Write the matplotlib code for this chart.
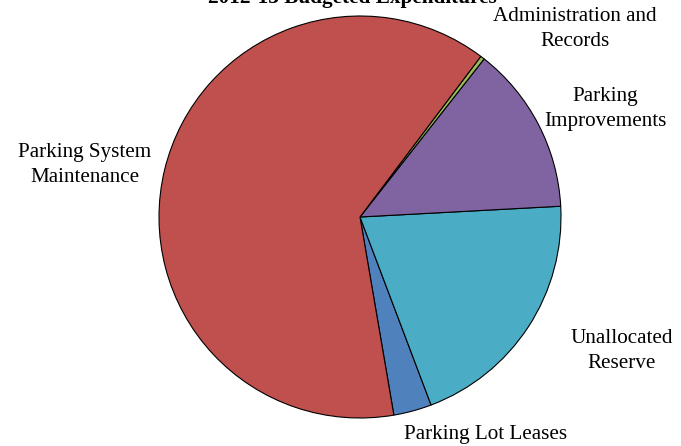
import numpy as np
import matplotlib
matplotlib.use('Agg')
import matplotlib.pyplot as plt

plt.rcParams['font.family'] = ['Liberation Serif', 'DejaVu Serif']

title = '2012-13 Budgeted Expenditures'
categories = ['Parking Lot Leases', 'Unallocated\nReserve', 'Parking\nImprovements',
              'Administration and\nRecords', 'Parking System\nMaintenance']
shares = [3.06, 20.1, 13.55, 0.33, 62.96]
colors = ['#4F81BD', '#4BACC6', '#8064A2', '#9BBB59', '#C0504D']
# label spots in pie-radius units
label_xy = [(0.627, -1.08), (1.303, -0.667), (1.219, 0.537), (1.07, 0.935), (-1.368, 0.259)]

fig = plt.figure(figsize=(6.81, 4.46), dpi=100)
ax = fig.add_axes([0, 0, 1, 1])
ax.pie(shares, colors=colors, startangle=-80.3, counterclock=True, radius=1,
       wedgeprops=dict(edgecolor='black', linewidth=0.8))
for name, (x, y) in zip(categories, label_xy):
    ax.text(x, y, name, ha='center', va='center', fontsize=15.2, linespacing=1.38)

r = 201.0
ax.set_xlim(-360 / r, (681 - 360) / r)
ax.set_ylim(-(446 - 217) / r, 217 / r)
ax.set_aspect('equal')
ax.axis('off')

fig.text(352 / 681, 1 - 3 / 446, title, ha='center', va='baseline',
         fontsize=15.3, fontweight='bold')

fig.savefig('out.png', dpi=100)
